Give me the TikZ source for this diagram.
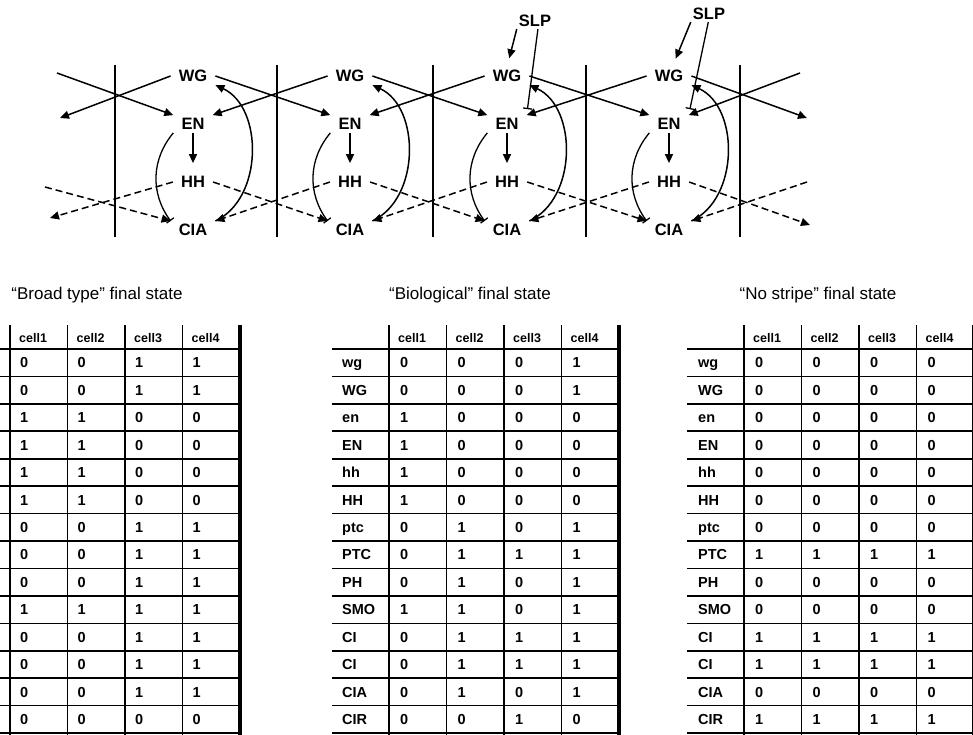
\documentclass[tikz,border=0pt]{standalone}
\usepackage{fontspec}
\setmainfont{Liberation Sans}
\usetikzlibrary{arrows.meta}

\begin{document}
\begin{tikzpicture}[
            x=1pt, y=-1pt,
            >={Triangle[length=9pt,width=8pt]},
            gene/.style={font=\bfseries\fontsize{16.5}{18}\selectfont, inner xsep=8pt, inner ysep=3pt},
            act/.style={->, line width=1.5pt},
            inh/.style={-{Bar[width=9pt,line width=1.3pt]}, line width=1.3pt},
            sig/.style={->, line width=1.5pt, dash pattern=on 7pt off 4pt},
            wall/.style={line width=2pt},
            title/.style={font=\fontsize{17}{19}\selectfont},
            hdr/.style={font=\bfseries\fontsize{12.5}{14}\selectfont, anchor=west, inner sep=0pt, text height=9pt, text depth=0pt},
            val/.style={font=\bfseries\fontsize{14.5}{16}\selectfont, anchor=west, inner sep=0pt, text height=10.4pt, text depth=0pt},
            rule/.style={line width=1.6pt}
        ]
        \useasboundingbox (0,0) rectangle (973,735);

        % cell walls
        \foreach \x in {115,277,433,586,740}
            \draw[wall] (\x,65) -- (\x,237);

        % gene nodes
        \foreach \i/\x in {1/193,2/350,3/507,4/669} {
            \node[gene] (wg\i) at (\x,76) {WG};
            \node[gene] (en\i) at (\x,124) {EN};
            \node[gene] (hh\i) at (\x,182) {HH};
            \node[gene] (cia\i) at (\x,230) {CIA};
        }
        \node[gene, inner sep=2pt] (slp3) at (535,21) {SLP};
        \node[gene, inner sep=2pt] (slp4) at (709,14) {SLP};

        % free ends at the outer walls
        \coordinate (wgL) at (57,73);
        \coordinate (enL) at (60,118);
        \coordinate (hhL) at (45,187);
        \coordinate (ciaL) at (50,218);
        \coordinate (wgR) at (800,73);
        \coordinate (enR) at (807,118);
        \coordinate (hhR) at (807,182);
        \coordinate (ciaR) at (810,225);

        % inside each cell
        \foreach \i in {1,...,4} {
            \draw[act, shorten >=10pt] (en\i.south) -- (hh\i.north);
            \draw[inh] (en\i.south west) to[bend right=38] (cia\i.north west);
            \draw[act] (cia\i.north east) to[bend right=65] (wg\i.south east);
        }

        % across the walls
        \foreach \i/\j in {1/2,2/3,3/4} {
            \draw[act] (wg\i.east) -- (en\j.north west);
            \draw[act] (wg\j.west) -- (en\i.north east);
            \draw[sig] (hh\i.east) -- (cia\j.north west);
            \draw[sig] (hh\j.west) -- (cia\i.north east);
        }
        \draw[act] (wgL) -- (en1.north west);
        \draw[act] (wg1.west) -- (enL);
        \draw[sig] (hhL) -- (cia1.north west);
        \draw[sig] (hh1.west) -- (ciaL);
        \draw[act] (wg4.east) -- (enR);
        \draw[act] (wgR) -- (en4.north east);
        \draw[sig] (hh4.east) -- (ciaR);
        \draw[sig] (hhR) -- (cia4.north east);

        % SLP input
        \draw[act, shorten >=9pt] (slp3.south west) -- (wg3.north);
        \draw[inh, shorten >=6pt] (slp3.-70) -- (en3.north east);
        \draw[act, shorten >=9pt] (slp4.south west) -- (wg4.70);
        \draw[inh, shorten >=6pt] (slp4.-95) -- (en4.north east);

        % tables: grid, titles, headers
        \foreach \x/\tx/\ttl in {10/97/{“Broad type” final state}, 389/470/{“Biological” final state}, 744/818/{“No stripe” final state}} {
            \node[title] (ttl\x) at (\tx,295) {\ttl};
            \foreach \r in {0,...,14}
                \draw[rule] (\x-57,{349+27.43*\r}) -- (\x+230,{349+27.43*\r});
            \foreach \c in {0,...,3}
                \draw[rule] ({\x+57.5*\c},325) -- ({\x+57.5*\c},735);
            \draw[line width=3.5pt] (\x+230,325) -- (\x+230,735);
            \foreach \c in {1,...,4}
                \node[hdr] (h\x-\c) at ({\x+57.5*(\c-1)+9},338) {cell\c};
        }

        % row labels
        \foreach [count=\r] \g in {wg,WG,en,EN,hh,HH,ptc,PTC,PH,SMO,CI,CI,CIA,CIR} {
            \node[val] (lb\r) at (342,{349+27.43*(\r-0.5)}) {\g};
            \node[val] (ln\r) at (698,{349+27.43*(\r-0.5)}) {\g};
        }

        % values
        \foreach [count=\r] \a/\b/\c/\d in {0/0/1/1,0/0/1/1,1/1/0/0,1/1/0/0,1/1/0/0,1/1/0/0,0/0/1/1,0/0/1/1,0/0/1/1,1/1/1/1,0/0/1/1,0/0/1/1,0/0/1/1,0/0/0/0}
            \foreach [count=\k] \v in {\a,\b,\c,\d}
                \node[val] (vb\r-\k) at ({10+57.5*(\k-1)+10},{349+27.43*(\r-0.5)}) {\v};
        \foreach [count=\r] \a/\b/\c/\d in {0/0/0/1,0/0/0/1,1/0/0/0,1/0/0/0,1/0/0/0,1/0/0/0,0/1/0/1,0/1/1/1,0/1/0/1,1/1/0/1,0/1/1/1,0/1/1/1,0/1/0/1,0/0/1/0}
            \foreach [count=\k] \v in {\a,\b,\c,\d}
                \node[val] (vg\r-\k) at ({389+57.5*(\k-1)+11},{349+27.43*(\r-0.5)}) {\v};
        \foreach [count=\r] \a/\b/\c/\d in {0/0/0/0,0/0/0/0,0/0/0/0,0/0/0/0,0/0/0/0,0/0/0/0,0/0/0/0,1/1/1/1,0/0/0/0,0/0/0/0,1/1/1/1,1/1/1/1,0/0/0/0,1/1/1/1}
            \foreach [count=\k] \v in {\a,\b,\c,\d}
                \node[val] (vn\r-\k) at ({744+57.5*(\k-1)+11},{349+27.43*(\r-0.5)}) {\v};

    \end{tikzpicture}
\end{document}
